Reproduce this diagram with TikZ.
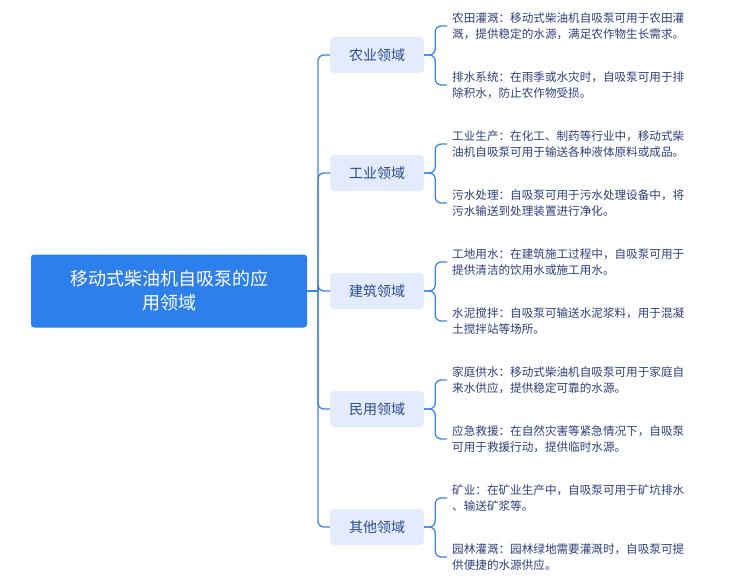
\documentclass[tikz,border=0pt]{standalone}
\usepackage{fontspec}
\setmainfont{Noto Sans CJK SC}
\begin{document}
\begin{tikzpicture}[x=1pt,y=-1pt,
  line/.style={draw=linkblue,line width=1.3pt,rounded corners=6pt},
  rootbox/.style={fill=rootblue,rounded corners=3pt,text=white,font=\fontsize{18}{24}\selectfont,align=center,minimum width=276pt,minimum height=73pt,inner sep=0pt},
  catbox/.style={fill=catfill,rounded corners=4pt,text=cattext,font=\fontsize{14}{16}\selectfont,minimum width=94pt,minimum height=36pt,inner sep=0pt},
  leaf/.style={text=leaftext,font=\fontsize{11.6}{16}\selectfont,align=left,anchor=west,inner sep=0pt}]
\definecolor{rootblue}{HTML}{2D7FEB}
\definecolor{linkblue}{HTML}{3A86E8}
\definecolor{catfill}{HTML}{E3EBFC}
\definecolor{cattext}{HTML}{2A4B8D}
\definecolor{leaftext}{HTML}{2E3F7A}
\useasboundingbox (0,0) rectangle (750,586);
\node[rootbox] (root) at (169,291) {移动式柴油机自吸泵的应\\用领域};
\coordinate (tr) at (318,291);
\draw[line] (root.east) -- (tr);
\foreach \i/\y/\name/\la/\lb in {
 1/55/农业领域/{农田灌溉：移动式柴油机自吸泵可用于农田灌\\溉，提供稳定的水源，满足农作物生长需求。}/{排水系统：在雨季或水灾时，自吸泵可用于排\\除积水，防止农作物受损。},
 2/173/工业领域/{工业生产：在化工、制药等行业中，移动式柴\\油机自吸泵可用于输送各种液体原料或成品。}/{污水处理：自吸泵可用于污水处理设备中，将\\污水输送到处理装置进行净化。},
 3/291/建筑领域/{工地用水：在建筑施工过程中，自吸泵可用于\\提供清洁的饮用水或施工用水。}/{水泥搅拌：自吸泵可输送水泥浆料，用于混凝\\土搅拌站等场所。},
 4/409/民用领域/{家庭供水：移动式柴油机自吸泵可用于家庭自\\来水供应，提供稳定可靠的水源。}/{应急救援：在自然灾害等紧急情况下，自吸泵\\可用于救援行动，提供临时水源。},
 5/527/其他领域/{矿业：在矿业生产中，自吸泵可用于矿坑排水\\、输送矿浆等。}/{园林灌溉：园林绿地需要灌溉时，自吸泵可提\\供便捷的水源供应。}} {
  \node[catbox] (c\i) at (377,\y) {\name};
  \node[leaf] (a\i) at (452,\y-29) {\la};
  \node[leaf] (b\i) at (452,\y+30) {\lb};
  \coordinate (ja\i) at (a\i.west);
  \coordinate (jb\i) at (b\i.west);
  \draw[line] (tr) |- (c\i.west);
  \draw[line] (c\i.east) -- ++(11,0) |- ([xshift=-5pt]ja\i);
  \draw[line] (c\i.east) -- ++(11,0) |- ([xshift=-5pt]jb\i);
}
\end{tikzpicture}
\end{document}
